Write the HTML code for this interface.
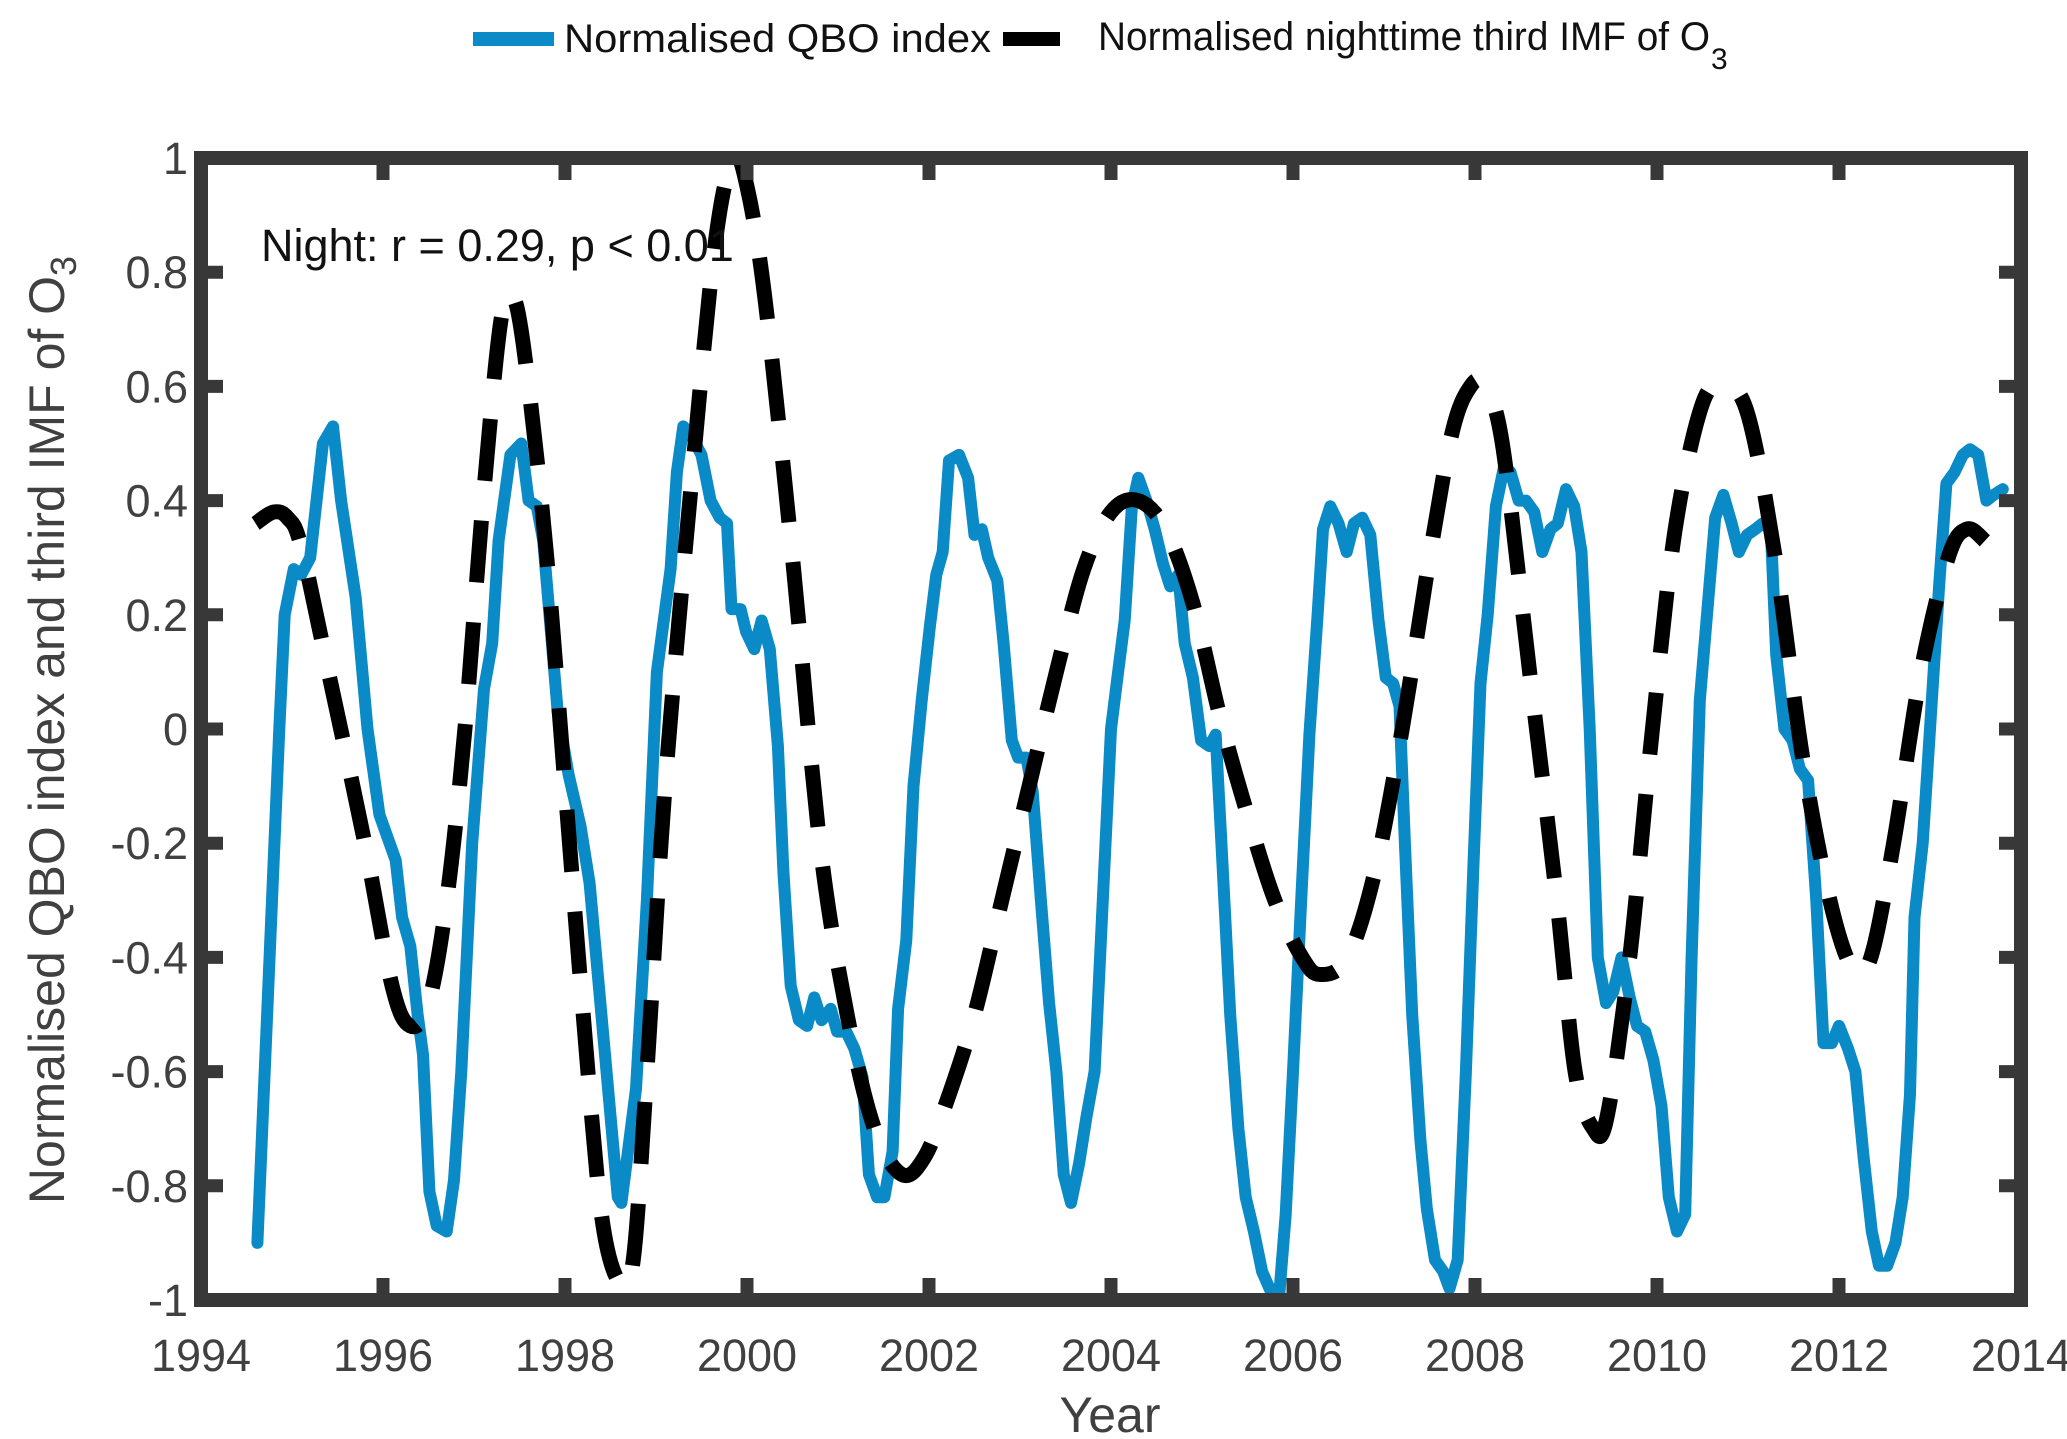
<!DOCTYPE html>
<html><head><meta charset="utf-8"><style>
html,body{margin:0;padding:0;background:#fff;}
svg{display:block;font-family:"Liberation Sans",sans-serif;}
</style></head><body>
<svg id="chart" width="2067" height="1439" viewBox="0 0 2067 1439" xmlns="http://www.w3.org/2000/svg">
<g>
  <line x1="473" y1="39" x2="554" y2="39" stroke="#0a8ac6" stroke-width="14"/>
  <text x="564" y="52" font-size="40" fill="#111" textLength="427" lengthAdjust="spacingAndGlyphs">Normalised QBO index</text>
  <line x1="1003" y1="39" x2="1060" y2="39" stroke="#000" stroke-width="14"/>
  <text x="1098" y="50" font-size="40" fill="#111" textLength="612" lengthAdjust="spacingAndGlyphs">Normalised nighttime third IMF of O</text>
  <text x="1711" y="69" font-size="30" fill="#111">3</text>
</g>
<g id="plot"></g>
<text x="261" y="261" font-size="45" fill="#111">Night: r = 0.29, p &lt; 0.01</text>
<text x="1110" y="1432" font-size="50" fill="#404040" text-anchor="middle">Year</text>
<text transform="translate(64,730) rotate(-90)" font-size="50" fill="#404040" text-anchor="middle">Normalised QBO index and third IMF of O<tspan font-size="36" dy="12">3</tspan></text>
</svg>
<script>
const qboYears=[1994.62,1994.86,1994.92,1995.02,1995.1,1995.2,1995.34,1995.45,1995.54,1995.7,1995.83,1995.96,1996.14,1996.21,1996.3,1996.38,1996.44,1996.51,1996.59,1996.7,1996.78,1996.86,1996.98,1997.11,1997.2,1997.27,1997.4,1997.52,1997.6,1997.69,1997.76,1997.92,1998.04,1998.17,1998.27,1998.4,1998.58,1998.62,1998.78,1998.9,1999.01,1999.16,1999.23,1999.3,1999.4,1999.5,1999.6,1999.7,1999.78,1999.83,1999.93,1999.99,2000.08,2000.16,2000.25,2000.34,2000.4,2000.48,2000.57,2000.66,2000.74,2000.82,2000.92,2000.99,2001.09,2001.18,2001.27,2001.34,2001.43,2001.51,2001.6,2001.66,2001.75,2001.83,2001.92,2002.01,2002.08,2002.15,2002.22,2002.33,2002.43,2002.5,2002.58,2002.65,2002.75,2002.82,2002.91,2002.98,2003.07,2003.14,2003.23,2003.32,2003.4,2003.48,2003.56,2003.65,2003.73,2003.82,2003.91,2004.0,2004.07,2004.15,2004.23,2004.3,2004.39,2004.48,2004.57,2004.65,2004.74,2004.81,2004.9,2004.99,2005.08,2005.15,2005.22,2005.31,2005.4,2005.48,2005.57,2005.66,2005.77,2005.85,2005.92,2006.0,2006.09,2006.18,2006.27,2006.33,2006.41,2006.5,2006.59,2006.67,2006.76,2006.85,2006.94,2007.02,2007.1,2007.17,2007.23,2007.31,2007.4,2007.47,2007.56,2007.65,2007.72,2007.81,2007.9,2007.98,2008.06,2008.14,2008.23,2008.32,2008.39,2008.48,2008.56,2008.65,2008.74,2008.83,2008.91,2009.0,2009.09,2009.17,2009.26,2009.35,2009.44,2009.52,2009.61,2009.7,2009.78,2009.87,2009.96,2010.05,2010.13,2010.22,2010.31,2010.38,2010.47,2010.55,2010.64,2010.73,2010.82,2010.9,2010.99,2011.08,2011.16,2011.25,2011.31,2011.4,2011.49,2011.57,2011.66,2011.75,2011.83,2011.92,2012.0,2012.1,2012.18,2012.27,2012.36,2012.44,2012.53,2012.62,2012.7,2012.78,2012.83,2012.92,2013.0,2013.1,2013.18,2013.27,2013.36,2013.44,2013.53,2013.62,2013.7,2013.8];
const qboValues=[-0.9,0.0,0.2,0.28,0.27,0.3,0.5,0.53,0.4,0.23,0.0,-0.15,-0.23,-0.33,-0.38,-0.5,-0.57,-0.81,-0.87,-0.88,-0.79,-0.6,-0.2,0.07,0.15,0.33,0.48,0.5,0.4,0.39,0.33,0.03,-0.08,-0.17,-0.27,-0.5,-0.82,-0.83,-0.63,-0.3,0.1,0.28,0.45,0.53,0.51,0.48,0.4,0.37,0.36,0.21,0.21,0.17,0.14,0.19,0.14,-0.03,-0.25,-0.45,-0.51,-0.52,-0.47,-0.51,-0.49,-0.53,-0.53,-0.56,-0.61,-0.78,-0.82,-0.82,-0.74,-0.49,-0.37,-0.1,0.05,0.18,0.27,0.31,0.47,0.48,0.44,0.34,0.35,0.3,0.26,0.15,-0.02,-0.05,-0.05,-0.11,-0.3,-0.48,-0.6,-0.78,-0.83,-0.76,-0.68,-0.6,-0.3,0.0,0.09,0.19,0.39,0.44,0.4,0.35,0.29,0.25,0.27,0.15,0.09,-0.02,-0.03,-0.01,-0.22,-0.5,-0.7,-0.82,-0.88,-0.95,-0.99,-0.99,-0.85,-0.6,-0.3,-0.01,0.2,0.35,0.39,0.36,0.31,0.36,0.37,0.34,0.19,0.09,0.08,0.04,-0.2,-0.5,-0.72,-0.84,-0.93,-0.95,-0.98,-0.93,-0.6,-0.25,0.08,0.2,0.39,0.46,0.45,0.4,0.4,0.38,0.31,0.35,0.36,0.42,0.39,0.31,0.0,-0.4,-0.48,-0.46,-0.4,-0.47,-0.52,-0.53,-0.58,-0.66,-0.82,-0.88,-0.85,-0.4,0.05,0.2,0.37,0.41,0.36,0.31,0.34,0.35,0.36,0.35,0.13,0.0,-0.02,-0.07,-0.09,-0.3,-0.55,-0.55,-0.52,-0.56,-0.6,-0.75,-0.88,-0.94,-0.94,-0.9,-0.82,-0.64,-0.33,-0.2,0.0,0.25,0.43,0.45,0.48,0.49,0.48,0.4,0.41,0.42];
const imfYears=[1994.6,1994.8,1994.95,1995.1,1995.4,1995.8,1996.1,1996.3,1996.5,1996.7,1996.9,1997.1,1997.3,1997.45,1997.6,1997.8,1998.0,1998.2,1998.4,1998.6,1998.75,1998.9,1999.1,1999.4,1999.65,1999.85,2000.0,2000.2,2000.5,2000.8,2001.1,2001.4,2001.7,2001.95,2002.2,2002.5,2002.8,2003.1,2003.4,2003.7,2004.0,2004.3,2004.6,2004.9,2005.2,2005.5,2005.8,2006.1,2006.3,2006.6,2006.9,2007.2,2007.5,2007.75,2007.95,2008.1,2008.3,2008.6,2008.9,2009.1,2009.3,2009.45,2009.7,2009.95,2010.2,2010.5,2010.75,2011.0,2011.3,2011.6,2011.9,2012.15,2012.35,2012.6,2012.9,2013.2,2013.4,2013.6,2013.75];
const imfValues=[0.36,0.38,0.37,0.32,0.1,-0.2,-0.45,-0.52,-0.48,-0.3,0.0,0.4,0.72,0.75,0.6,0.3,-0.1,-0.5,-0.85,-0.97,-0.93,-0.6,-0.1,0.45,0.85,1.0,0.95,0.75,0.3,-0.2,-0.5,-0.7,-0.78,-0.75,-0.65,-0.5,-0.3,-0.1,0.1,0.28,0.38,0.4,0.35,0.22,0.02,-0.15,-0.3,-0.4,-0.43,-0.4,-0.25,0.0,0.3,0.52,0.6,0.6,0.5,0.1,-0.3,-0.6,-0.7,-0.68,-0.4,0.0,0.35,0.57,0.6,0.55,0.3,-0.05,-0.3,-0.42,-0.4,-0.2,0.1,0.3,0.35,0.33,0.3];
const xTicks=[1994,1996,1998,2000,2002,2004,2006,2008,2010,2012,2014];
const yTicks=[-1,-0.8,-0.6,-0.4,-0.2,0,0.2,0.4,0.6,0.8,1];
const yTickLabels=["-1","-0.8","-0.6","-0.4","-0.2","0","0.2","0.4","0.6","0.8","1"];

const L=201,R=2021,T=158,B=1300;
function xs(y){return L+(y-1994)/20*(R-L);}
function ys(v){return T+(1-v)/2*(B-T);}
const NS="http://www.w3.org/2000/svg";
const plot=document.getElementById('plot');
function mk(tag,attrs){const e=document.createElementNS(NS,tag);for(const k in attrs)e.setAttribute(k,attrs[k]);return e;}

function pathFrom(xsArr,vs){return xsArr.map((x,i)=>(i?'L':'M')+xs(x).toFixed(1)+' '+ys(vs[i]).toFixed(1)).join(' ');}
const blue=mk('path',{d:pathFrom(qboYears,qboValues),fill:'none',stroke:'#0a8ac6','stroke-width':12,'stroke-linejoin':'round','stroke-linecap':'round'});


plot.appendChild(blue);
function smooth(xa,va){const p=xa.map((x,i)=>[xs(x),ys(va[i])]);let d='M'+p[0][0]+' '+p[0][1];
for(let i=0;i<p.length-1;i++){const p0=p[i-1]||p[i],p1=p[i],p2=p[i+1],p3=p[i+2]||p2;
d+=' C'+(p1[0]+(p2[0]-p0[0])/6)+' '+(p1[1]+(p2[1]-p0[1])/6)+' '+(p2[0]-(p3[0]-p1[0])/6)+' '+(p2[1]-(p3[1]-p1[1])/6)+' '+p2[0]+' '+p2[1];}return d;}
const black=mk('path',{d:smooth(imfYears,imfValues),fill:'none',stroke:'#000','stroke-width':15,'stroke-dasharray':'62 40'});


plot.appendChild(black);

const axisColor='#383838';
xTicks.forEach((t,i)=>{const x=xs(t);
  const tb=mk('line',{x1:x,y1:B,x2:x,y2:B-22,stroke:axisColor,'stroke-width':13});
  
  
  plot.appendChild(tb);
  const tt=mk('line',{x1:x,y1:T,x2:x,y2:T+22,stroke:axisColor,'stroke-width':13});
  
  
  plot.appendChild(tt);
  const lb=mk('text',{x:x,y:1371,'font-size':45,fill:'#404040','text-anchor':'middle'});
  lb.textContent=String(t);
  
  
  plot.appendChild(lb);
});
yTicks.forEach((t,i)=>{const y=ys(t);
  const tl=mk('line',{x1:L,y1:y,x2:L+22,y2:y,stroke:axisColor,'stroke-width':13});
  
  
  plot.appendChild(tl);
  const tr=mk('line',{x1:R,y1:y,x2:R-22,y2:y,stroke:axisColor,'stroke-width':13});
  
  
  plot.appendChild(tr);
  const lb=mk('text',{x:188,y:y+16,'font-size':45,fill:'#404040','text-anchor':'end'});
  lb.textContent=yTickLabels[i];
  
  
  plot.appendChild(lb);
});
const frame=mk('rect',{x:L,y:T,width:R-L,height:B-T,fill:'none',stroke:axisColor,'stroke-width':14});


plot.appendChild(frame);
</script>
</body></html>
